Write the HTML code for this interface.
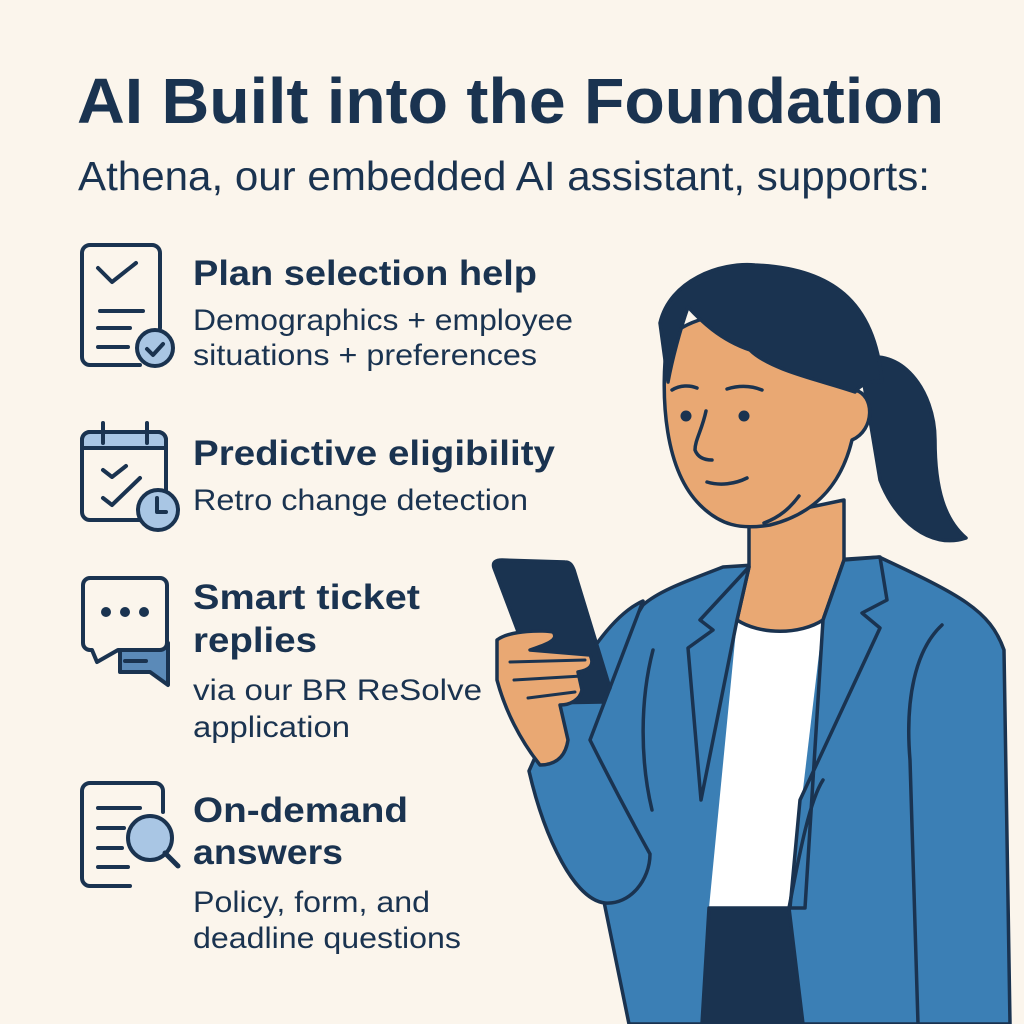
<!DOCTYPE html>
<html><head><meta charset="utf-8"><style>
html,body{margin:0;padding:0;background:#fbf5ec;}
svg{display:block}
text{font-family:"Liberation Sans",sans-serif;fill:#1a3350}
.h{font-weight:bold;font-size:35px}
.b{font-size:30px}
</style></head><body>
<svg width="1024" height="1024" viewBox="0 0 1024 1024" xmlns="http://www.w3.org/2000/svg">
<rect width="1024" height="1024" fill="#fbf5ec"/>
<text x="77" y="123" font-size="64" font-weight="bold" textLength="867" lengthAdjust="spacingAndGlyphs">AI Built into the Foundation</text>
<text x="78" y="190" font-size="41" textLength="852" lengthAdjust="spacingAndGlyphs">Athena, our embedded AI assistant, supports:</text>

<text class="h" x="193" y="285" textLength="344" lengthAdjust="spacingAndGlyphs">Plan selection help</text>
<text class="b" x="193" y="330" textLength="380" lengthAdjust="spacingAndGlyphs">Demographics + employee</text>
<text class="b" x="193" y="365" textLength="344" lengthAdjust="spacingAndGlyphs">situations + preferences</text>
<text class="h" x="193" y="465" textLength="362" lengthAdjust="spacingAndGlyphs">Predictive eligibility</text>
<text class="b" x="193" y="510" textLength="335" lengthAdjust="spacingAndGlyphs">Retro change detection</text>
<text class="h" x="193" y="609" textLength="227" lengthAdjust="spacingAndGlyphs">Smart ticket</text>
<text class="h" x="193" y="652" textLength="124" lengthAdjust="spacingAndGlyphs">replies</text>
<text class="b" x="193" y="700" textLength="289" lengthAdjust="spacingAndGlyphs">via our BR ReSolve</text>
<text class="b" x="193" y="737" textLength="157" lengthAdjust="spacingAndGlyphs">application</text>
<text class="h" x="193" y="822" textLength="215" lengthAdjust="spacingAndGlyphs">On-demand</text>
<text class="h" x="193" y="864" textLength="150" lengthAdjust="spacingAndGlyphs">answers</text>
<text class="b" x="193" y="912" textLength="237" lengthAdjust="spacingAndGlyphs">Policy, form, and</text>
<text class="b" x="193" y="948" textLength="268" lengthAdjust="spacingAndGlyphs">deadline questions</text>

<g fill="none" stroke="#1a3350" stroke-width="4" stroke-linecap="round" stroke-linejoin="round">
<!-- icon 1 -->
<path d="M140 365 H90 a8 8 0 0 1 -8 -8 V253 a8 8 0 0 1 8 -8 H152 a8 8 0 0 1 8 8 V328"/>
<path d="M98 268 L112 282 L136 263"/>
<path d="M100 311 H143 M98 328 H130 M98 347 H128"/>
<circle cx="155" cy="348" r="18" fill="#a9c6e4"/>
<path d="M147 349 L153 355 L163 344"/>
<!-- icon 2 -->
<path d="M140 520 H90 a8 8 0 0 1 -8 -8 V440 a8 8 0 0 1 8 -8 H158 a8 8 0 0 1 8 8 V492"/>
<path d="M82 448 V440 a8 8 0 0 1 8 -8 H158 a8 8 0 0 1 8 8 V448 Z" fill="#a9c6e4"/>
<path d="M103 423 V443 M147 423 V443"/>
<path d="M103 470 L112 477 L126 466 M103 498 L112 505 L140 478"/>
<circle cx="158" cy="510" r="20" fill="#a9c6e4"/>
<path d="M157 498 V512 H166"/>
<!-- icon 3 -->
<path d="M112 643 L120 652 V672 H150 L168 685 V643 Z" fill="#5b8ab8"/>
<path d="M92 650 H90 a7 7 0 0 1 -7 -7 V585 a7 7 0 0 1 7 -7 H160 a7 7 0 0 1 7 7 V643 a7 7 0 0 1 -7 7 H118 L97 662 Z" fill="#fbf5ec"/>
<path d="M125 661 H146"/>
<!-- icon 4 -->
<path d="M130 886 H90 a8 8 0 0 1 -8 -8 V791 a8 8 0 0 1 8 -8 H155 a8 8 0 0 1 8 8 V812"/>
<path d="M98 808 H140 M98 828 H124 M98 848 H122 M98 867 H128"/>
<circle cx="150" cy="838" r="22" fill="#a9c6e4"/>
<path d="M165 853 L178 866" stroke-width="5"/>
</g>
<g fill="#1a3350"><circle cx="106" cy="612" r="5"/><circle cx="125" cy="612" r="5"/><circle cx="144" cy="612" r="5"/></g>

<!-- woman -->
<g stroke="#1a3350" stroke-width="3.5" stroke-linejoin="round" stroke-linecap="round">
<!-- ponytail -->
<path d="M860 360 C900 345 935 390 935 440 C935 490 945 520 966 538 C930 550 895 520 880 480 Z" fill="#1a3350"/>
<!-- jacket body -->
<path d="M723 567 C690 580 660 590 643 605 C615 650 580 730 575 760 L629 1024 H1010 L1004 650 C990 610 960 595 879 557 Z" fill="#3b7fb5"/>
<!-- shirt -->
<path d="M737 620 L823 620 L789 908 L709 908 Z" fill="#fff" stroke="none"/>
<path d="M709 908 H789 L803 1024 H702 Z" fill="#1a3350"/>
<!-- neck -->
<path d="M749 520 L749 567 L737 620 C760 635 800 635 823 620 L844 560 L844 500 Z" fill="#e9a873"/>
<!-- lapels -->
<path d="M749 567 L700 620 L713 630 L688 648 L701 800 L737 620 Z" fill="#3b7fb5"/>
<path d="M844 560 L880 557 L887 600 L862 613 L880 628 L800 800 L790 908 L805 908 L823 620 Z" fill="#3b7fb5"/>
<path d="M789 908 C800 850 810 800 823 780" fill="none"/>
<path d="M653 650 C640 700 640 760 652 810" fill="none"/>
<path d="M942 625 C915 650 905 700 910 760 L918 1024" fill="none"/>
<!-- arm -->
<path d="M643 601 C600 620 560 700 529 771 C545 840 575 900 605 903 C630 905 650 880 650 854 C620 800 600 760 590 740 Z" fill="#3b7fb5"/>
<!-- face -->
<path d="M667 340 C660 400 665 470 700 505 C720 525 740 530 770 525 C810 515 840 490 852 440 C875 430 875 395 855 390 L845 340 C820 305 700 300 667 340 Z" fill="#e9a873"/>
<!-- hair -->
<path d="M660 323 C670 280 720 262 755 265 C830 268 875 300 882 382 C870 380 860 385 855 392 C820 380 770 370 750 350 C720 340 700 320 688 307 C680 330 672 360 668 382 Z" fill="#1a3350"/>
<!-- phone -->
<path d="M494 568 C492 562 496 560 502 560 L565 562 C570 562 572 565 574 570 L610 688 L602 702 L545 703 Z" fill="#1a3350"/>
<!-- hand -->
<path d="M497 640 C510 630 545 630 553 632 C560 640 545 645 530 650 L590 655 C595 665 590 670 578 672 L582 690 C580 700 570 705 560 705 L568 740 C565 760 552 765 540 765 C520 740 505 710 497 680 Z" fill="#e9a873"/>
<path d="M510 662 L585 660 M514 680 L582 676 M528 698 L575 692" fill="none" stroke-width="3"/>
</g>
<g fill="#1a3350"><circle cx="686" cy="416" r="5.5"/><circle cx="744" cy="416" r="5.5"/></g>
<g fill="none" stroke="#1a3350" stroke-width="3.5" stroke-linecap="round">
<path d="M672 390 C680 385 690 385 697 388 M727 389 C740 385 752 386 762 390"/>
<path d="M706 411 C702 430 695 440 695 450 C698 458 705 460 712 460"/>
<path d="M707 482 C720 486 735 484 747 478"/>
<path d="M764 523 C780 517 790 508 799 496"/>
</g>
</svg>
</body></html>
